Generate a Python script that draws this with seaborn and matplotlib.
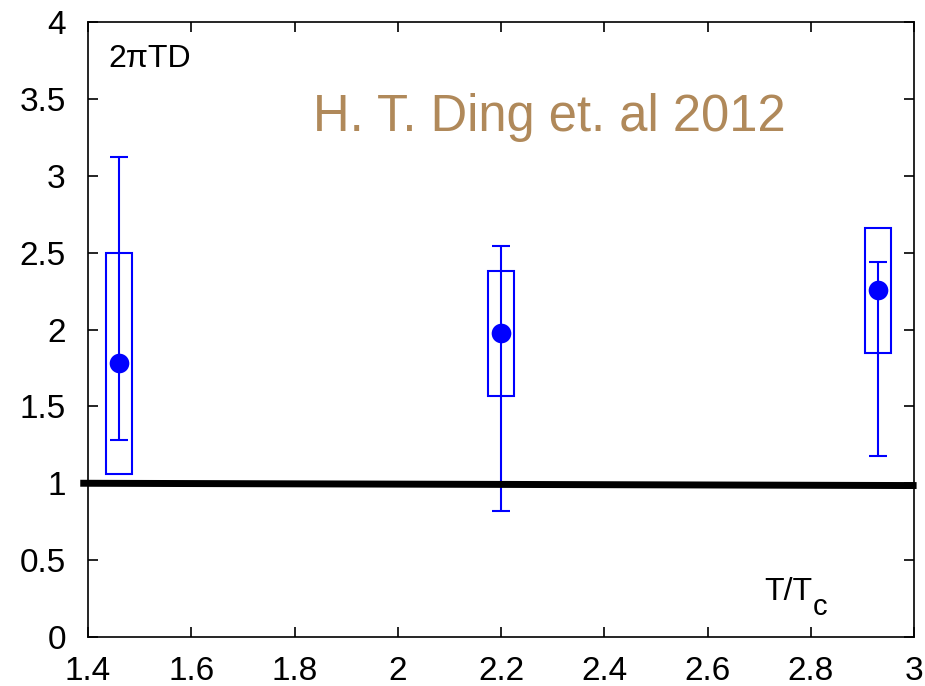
import matplotlib
matplotlib.use("Agg")
import matplotlib.pyplot as plt
from matplotlib.patches import Rectangle
import seaborn as sns
import pandas as pd

# Data
t_over_tc = [1.46, 2.20, 2.93]
d_value = [1.78, 1.98, 2.26]
err_low = [1.28, 0.82, 1.18]
err_high = [3.12, 2.54, 2.44]
box_low = [1.06, 1.57, 1.85]
box_high = [2.50, 2.38, 2.66]
box_halfwidth = 0.025
xticks = [1.4, 1.6, 1.8, 2.0, 2.2, 2.4, 2.6, 2.8, 3.0]
xticklabels = ["1.4", "1.6", "1.8", "2", "2.2", "2.4", "2.6", "2.8", "3"]
yticks = [0, 0.5, 1, 1.5, 2, 2.5, 3, 3.5, 4]
yticklabels = ["0", "0.5", "1", "1.5", "2", "2.5", "3", "3.5", "4"]
ref_line_x = [1.385, 3.005]
ref_line_y = [1.0, 0.985]

sns.set_style("ticks")
plt.rcParams['font.family'] = ['Liberation Sans', 'DejaVu Sans']
plt.rcParams['text.color'] = 'black'

fig = plt.figure(figsize=(9.25, 6.86), dpi=100)
ax = fig.add_axes([88/925, 1-637/686, (914-88)/925, (637-22)/686])

df = pd.DataFrame({"x": t_over_tc, "y": d_value})
blue = "#0000ff"

for x, lo, hi in zip(t_over_tc, box_low, box_high):
    ax.add_patch(Rectangle((x - box_halfwidth, lo), 2*box_halfwidth, hi - lo,
                           fill=False, edgecolor=blue, linewidth=1.5, zorder=3))

yerr = [[y - l for y, l in zip(d_value, err_low)], [h - y for y, h in zip(d_value, err_high)]]
ax.errorbar(t_over_tc, d_value, yerr=yerr, fmt="none", ecolor=blue,
            elinewidth=1.5, capsize=6.5, capthick=1.5, zorder=4)
sns.scatterplot(data=df, x="x", y="y", ax=ax, color=blue, s=200,
                edgecolor=blue, linewidth=0, zorder=5, legend=False)

ax.plot(ref_line_x, ref_line_y, color="black", linewidth=5, clip_on=False,
        solid_capstyle="butt", zorder=6)

ax.set_xlim(1.4, 3.0)
ax.set_ylim(0, 4)
ax.set_xticks(xticks)
ax.set_xticklabels(xticklabels)
ax.set_yticks(yticks)
ax.set_yticklabels(yticklabels)
ax.set_xlabel("")
ax.set_ylabel("")
ax.tick_params(direction="in", length=7, width=1.2, labelsize=24,
               top=True, right=True, colors="black", labelcolor="black")
ax.tick_params(axis="y", pad=16)
ax.tick_params(axis="x", pad=14)
for s in ax.spines.values():
    s.set_visible(True)
    s.set_linewidth(1.2)
    s.set_color("black")

ax.text(0.025, 0.965, "2πTD", transform=ax.transAxes, fontsize=23,
        ha="left", va="top", color="black")
ax.text(0.8765, 0.0724, "T/T", transform=ax.transAxes, fontsize=23,
        ha="right", va="center", color="black")
ax.text(0.8775, 0.048, "c", transform=ax.transAxes, fontsize=21,
        ha="left", va="center", color="black")
ax.text(0.558, 0.845, "H. T. Ding et. al 2012", transform=ax.transAxes,
        fontsize=36.5, color="#b0895a", ha="center", va="center")

fig.savefig("out.png", dpi=100)
